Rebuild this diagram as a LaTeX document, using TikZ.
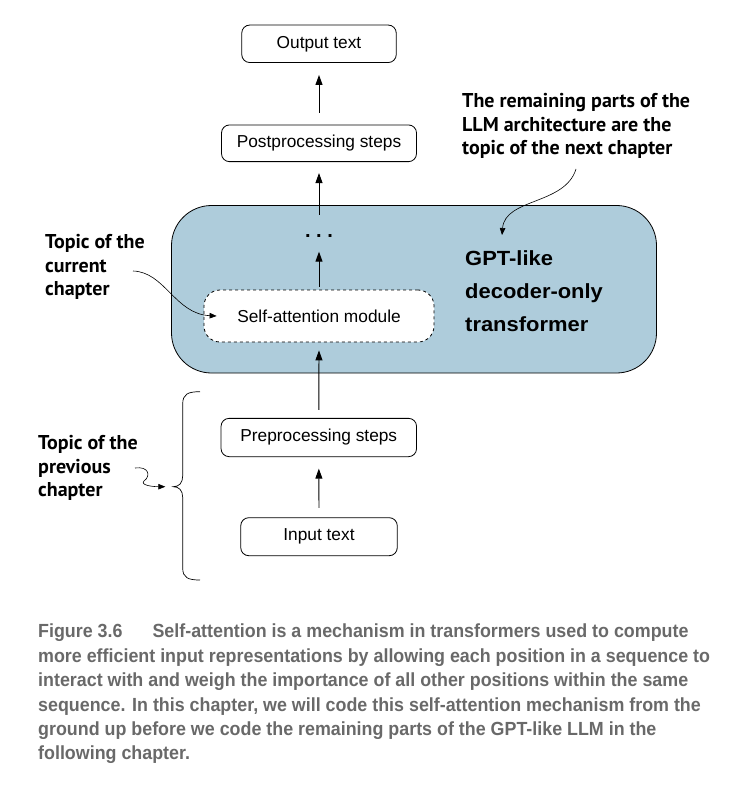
\documentclass[tikz,border=0pt]{standalone}
\usepackage{fontspec}
\setmainfont{Liberation Sans}
\newfontfamily\annfont{PT Sans}
\newfontfamily\capfont[FakeStretch=0.94]{Liberation Sans}
\newfontfamily\gptfont[FakeStretch=1.07]{Liberation Sans}
\usetikzlibrary{arrows.meta}
\definecolor{bluefill}{RGB}{174,204,219}
\definecolor{capgray}{RGB}{105,105,105}
\tikzset{
  stepbox/.style={draw, line width=0.8pt, rounded corners=8pt, fill=white,
    minimum height=37.5pt, font=\fontsize{17.3}{20}\selectfont, inner sep=0pt},
  flow/.style={line width=0.9pt, -{Triangle[length=10pt,width=7pt]}},
  note/.style={-{Triangle[length=7pt,width=5.5pt]}, line width=0.6pt},
  ann/.style={font=\annfont\bfseries\fontsize{20}{23.5}\selectfont, align=left, anchor=north west, inner sep=0pt},
}
\begin{document}
\begin{tikzpicture}[x=1pt,y=-1pt]
\useasboundingbox (0,0) rectangle (730,791);
% big container
\node[draw, line width=0.8pt, fill=bluefill, rounded corners=40pt, minimum width=485pt, minimum height=167.5pt, inner sep=0pt] (gpt) at (414,289.25) {};
\node[font=\gptfont\bfseries\fontsize{20.5}{33}\selectfont, align=left, anchor=north west, inner sep=0pt] (gptlabel) at (465,250.5) {GPT-like\\decoder-only\\transformer};
% boxes
\node[stepbox, minimum width=154.5pt] (out) at (319,43.8) {Output text};
\node[stepbox, minimum width=195pt, minimum height=36.7pt] (post) at (319,143.3) {Postprocessing steps};
\node[font=\bfseries\fontsize{20}{20}\selectfont, inner sep=0pt] (dots) at (319,236) {.\hspace{5.5pt}.\hspace{5.5pt}.};
\node[stepbox, dashed, rounded corners=16pt, minimum width=230pt, minimum height=52pt] (sa) at (319,316) {Self-attention module};
\node[stepbox, minimum width=195.5pt, minimum height=38.3pt] (pre) at (318.8,437.5) {Preprocessing steps};
\node[stepbox, minimum width=156.5pt, minimum height=38pt] (in) at (319,536.7) {Input text};
% flow arrows
\coordinate (gpttop) at (319,215);
\draw[flow, shorten <=12pt, shorten >=12pt] (post.north) -- (out.south);
\draw[flow, shorten >=11pt] (gpttop) -- (post.south);
\draw[flow, shorten <=3pt, shorten >=14pt] (sa.north) -- (dots.south);
\draw[flow, shorten <=8pt, shorten >=8pt] (pre.north) -- (sa.south);
\draw[flow, shorten <=9.4pt, shorten >=11.6pt] (in.north) -- (pre.south);
% annotations
\node[ann] (cur) at (45,234.5) {Topic of the\\current\\chapter};
\coordinate (curstart) at (133,271);
\draw[note] (curstart) .. controls (165,272) and (175,314) .. ([xshift=13pt]sa.west);
\node[ann] (nxt) at (462,93.5) {The remaining parts of the\\LLM architecture are the\\topic of the next chapter};
\coordinate (nxtstart) at (576,169);
\coordinate (nxtend) at (502,235);
\draw[note] (nxtstart) .. controls (565,205) and (505,198) .. (nxtend);
\node[ann] (prev) at (38,435.5) {Topic of the\\previous\\chapter};
\coordinate (prevstart) at (135,468);
\coordinate (brtip) at (173.3,486.7);
\coordinate (brtop) at (200,391.7);
\coordinate (brbot) at (200,580);
\draw[note] (prevstart) .. controls (149,466) and (151,476) .. (144,481) .. controls (140,485) and (152,486.7) .. ([xshift=-8pt]brtip);
\draw[line width=0.7pt] (brtop) .. controls (188,391.7) and (182.7,394) .. (182.7,404) -- (182.7,476)
  .. controls (182.7,483) and (179,486.7) .. (brtip)
  .. controls (179,486.7) and (182.7,490.4) .. (182.7,497.4) -- (182.7,568)
  .. controls (182.7,577.7) and (188,580) .. (brbot);
% caption
\node[font=\capfont\bfseries\fontsize{19}{24.4}\selectfont, text=capgray, align=left, anchor=north west, inner sep=0pt] (cap) at (38,624) {Figure 3.6\hspace{30pt}Self-attention is a mechanism in transformers used to compute\\more efficient input representations by allowing each position in a sequence to\\interact with and weigh the importance of all other positions within the same\\sequence. In this chapter, we will code this self-attention mechanism from the\\ground up before we code the remaining parts of the GPT-like LLM in the\\following chapter.};
\end{tikzpicture}
\end{document}
